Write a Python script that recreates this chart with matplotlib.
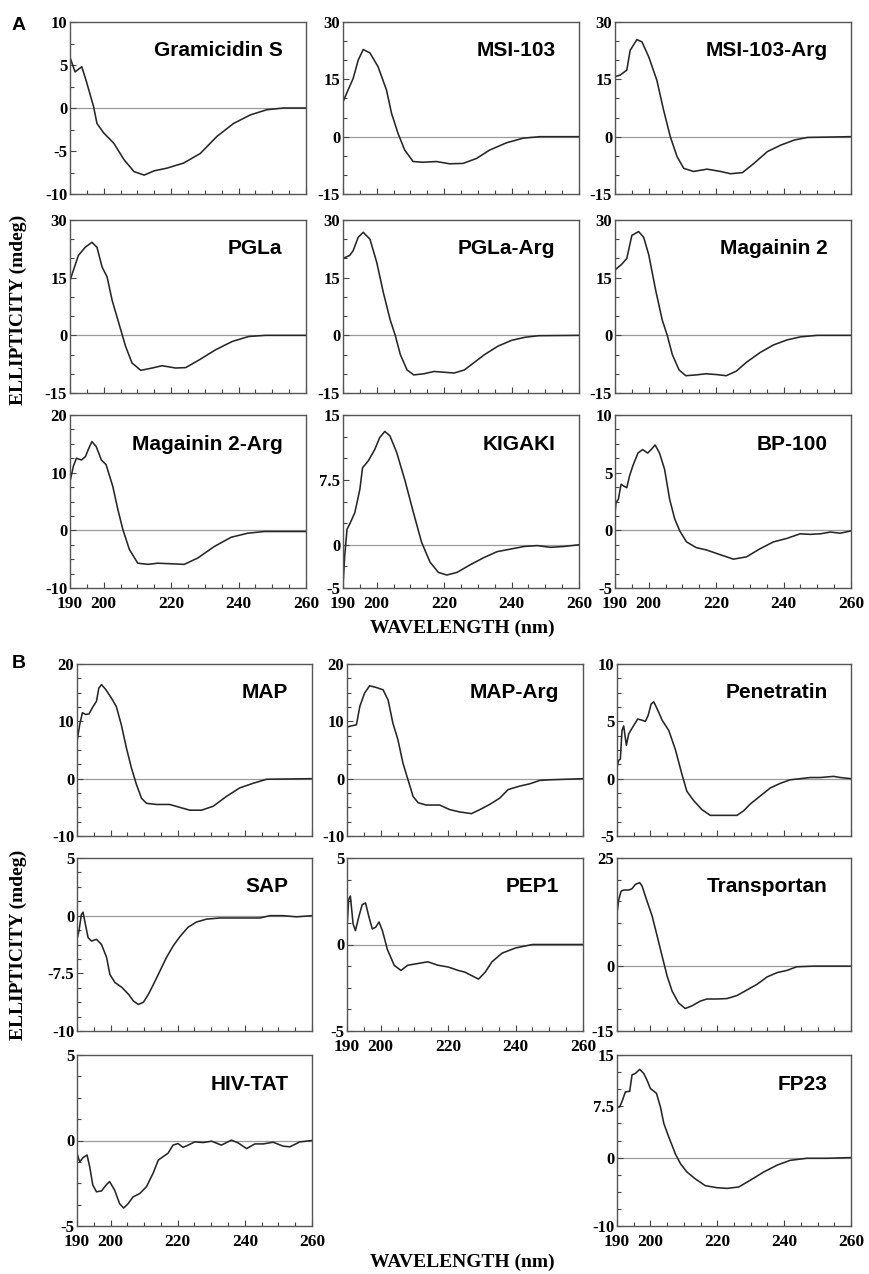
import matplotlib
matplotlib.use("Agg")
import matplotlib.pyplot as plt
from matplotlib.ticker import MultipleLocator

# ---- data (wavelength nm, ellipticity mdeg) ----
gramicidin_wl = [190, 191.5, 193.5, 195, 197, 198, 200, 203, 206, 209, 212, 215, 218.7, 223.7, 228.6, 233.6, 238.5, 243.5, 248.4, 253.4, 260]
gramicidin_cd = [5.9, 4.2, 4.8, 2.9, 0.15, -1.8, -2.9, -4.1, -6.0, -7.4, -7.8, -7.3, -7.0, -6.4, -5.3, -3.3, -1.8, -0.8, -0.2, 0.0, 0.0]

msi103_wl = [190, 191.5, 193, 194.5, 196, 198, 200.4, 202.9, 204.4, 206.3, 208.3, 210.8, 213.7, 217.7, 221.6, 225.6, 229.6, 233.5, 238.5, 243.4, 248.4, 260]
msi103_cd = [9.1, 12.2, 15.2, 20.0, 22.8, 21.9, 18.3, 12.2, 6.1, 0.9, -3.5, -6.5, -6.7, -6.5, -7.1, -7.0, -5.7, -3.5, -1.6, -0.4, 0.0, 0.0]

msi103arg_wl = [190, 191.5, 193.5, 194.5, 196.5, 198, 200, 202.4, 204.4, 206.4, 208.4, 210.4, 213.3, 217.3, 221.3, 224.3, 227.8, 231.2, 235.2, 239.2, 243.1, 247.1, 260]
msi103arg_cd = [15.7, 16.1, 17.4, 22.6, 25.4, 24.8, 20.9, 14.8, 7.0, 0.0, -5.2, -8.3, -9.1, -8.5, -9.1, -9.7, -9.4, -7.0, -3.9, -2.2, -0.9, -0.2, 0.0]

pgla_wl = [190, 191, 192.5, 194.5, 196.5, 198, 199.5, 201, 202.5, 204.5, 206.5, 208.4, 211, 214.4, 217.3, 221.3, 224.3, 228.3, 233.1, 238.1, 243, 248, 260]
pgla_cd = [14.3, 16.9, 20.8, 22.9, 24.2, 22.9, 17.8, 15.2, 9.1, 3.1, -2.9, -7.2, -9.1, -8.5, -7.9, -8.5, -8.4, -6.4, -3.8, -1.6, -0.3, 0.0, 0.0]

pglaarg_wl = [190, 192, 193, 194.5, 196, 198, 200, 202, 204, 205.5, 207, 209, 211, 214, 217, 220, 223, 226, 229, 232, 236, 240, 244, 248, 260]
pglaarg_cd = [20, 20.8, 22, 25.5, 26.8, 25, 19, 11, 4, 0, -5, -9, -10.3, -10, -9.4, -9.6, -9.8, -9, -7, -5, -2.8, -1.3, -0.5, -0.1, 0]

mag2_wl = [190, 192, 193.5, 195, 197, 198.5, 200, 202, 204, 205.5, 207, 209, 211, 214, 217, 220, 223, 226, 229, 233, 237, 241, 245, 250, 260]
mag2_cd = [17, 18.5, 20, 26, 27, 25.5, 21, 12, 4, 0, -5, -9, -10.5, -10.3, -10, -10.2, -10.5, -9.3, -7, -4.5, -2.5, -1.2, -0.4, 0, 0]

mag2arg_wl = [190, 191, 191.9, 193.4, 194.6, 195.4, 196.5, 197.8, 199.3, 200.7, 202.7, 204.2, 205.7, 207.6, 210.1, 213.1, 216, 220, 223.9, 227.9, 232.8, 237.8, 242.7, 247.7, 260]
mag2arg_cd = [8.5, 11.1, 12.5, 12.2, 12.8, 14.0, 15.4, 14.5, 12.2, 11.4, 7.6, 3.6, 0.1, -3.3, -5.7, -5.9, -5.7, -5.8, -5.9, -4.8, -2.8, -1.2, -0.5, -0.2, -0.2]

kigaki_wl = [190, 190.5, 191.2, 192, 193.5, 195, 195.8, 197.5, 199.4, 200.9, 202.4, 203.9, 205.9, 208.4, 210.9, 213.3, 215.8, 218.3, 220.8, 223.8, 227.8, 231.7, 235.7, 239.7, 243.7, 247.6, 251.6, 255.5, 260]
kigaki_cd = [-4.8, -1.3, 1.8, 2.4, 3.7, 6.4, 8.9, 9.7, 11.0, 12.4, 13.1, 12.6, 10.7, 7.4, 3.7, 0.3, -2.0, -3.2, -3.5, -3.2, -2.3, -1.5, -0.8, -0.5, -0.2, -0.1, -0.3, -0.2, 0.0]

bp100_wl = [190, 190.3, 191, 191.8, 192.8, 193.5, 194.3, 195.3, 196.8, 198.2, 199.7, 200.7, 201.9, 203.2, 204.7, 206.2, 207.7, 209.2, 211.2, 214.1, 217.1, 221.1, 225.1, 229, 233, 237, 241, 244.9, 247.9, 250.9, 253.9, 256.8, 260]
bp100_cd = [1.5, 2.4, 2.7, 4.0, 3.8, 3.7, 4.7, 5.6, 6.7, 7.0, 6.7, 7.0, 7.4, 6.7, 5.3, 2.7, 1.0, -0.05, -1.0, -1.5, -1.7, -2.1, -2.5, -2.3, -1.6, -1.0, -0.7, -0.3, -0.35, -0.3, -0.15, -0.25, -0.05]

map_wl = [190, 190.8, 191.6, 192.6, 193.6, 194.8, 195.8, 196.5, 197.3, 198.5, 200.2, 201.7, 203.2, 204.7, 206.2, 207.7, 209.2, 210.7, 213.7, 217.6, 220.6, 223.6, 227.1, 230.6, 234.5, 238.5, 242.5, 246.5, 260]
map_cd = [6.5, 9.4, 11.5, 11.2, 11.3, 12.6, 13.5, 15.8, 16.4, 15.6, 14.1, 12.6, 9.4, 5.4, 1.9, -1.0, -3.4, -4.3, -4.5, -4.5, -5.0, -5.5, -5.5, -4.8, -3.1, -1.6, -0.8, -0.1, 0.0]

maparg_wl = [190, 191.3, 192.8, 193.8, 195.2, 196.7, 198.7, 200.7, 202.2, 203.6, 205.1, 206.6, 208.1, 209.6, 211.1, 213.5, 217.5, 220.5, 223.4, 226.9, 229.4, 232.3, 235.3, 237.8, 241.2, 244.2, 247.2, 250.1, 260]
maparg_cd = [9.0, 9.2, 9.4, 12.6, 14.9, 16.2, 15.9, 15.5, 13.7, 9.7, 6.8, 2.7, -0.2, -3.1, -4.2, -4.6, -4.6, -5.4, -5.8, -6.1, -5.4, -4.5, -3.4, -1.9, -1.3, -0.9, -0.3, -0.2, 0.0]

penetratin_wl = [190, 190.5, 191, 191.5, 192, 192.8, 193.5, 194.5, 196.2, 197.5, 198.5, 199.3, 200.2, 201, 202, 203.5, 205.5, 207.5, 209.4, 210.9, 212.9, 215.4, 217.9, 220.9, 223.4, 225.9, 227.9, 229.9, 232.9, 235.9, 238.9, 241.8, 244.8, 247.8, 250.8, 254.8, 256.8, 260]
penetratin_cd = [1.0, 1.6, 1.7, 4.2, 4.6, 2.9, 3.9, 4.4, 5.2, 5.1, 5.0, 5.5, 6.5, 6.7, 6.1, 5.1, 4.2, 2.5, 0.4, -1.1, -1.9, -2.7, -3.2, -3.2, -3.2, -3.2, -2.8, -2.2, -1.5, -0.8, -0.4, -0.1, 0.0, 0.1, 0.1, 0.2, 0.1, 0.0]

sap_wl = [190, 190.6, 191.3, 191.8, 192.6, 193.3, 194.3, 195.8, 197.3, 198.8, 199.8, 201.3, 203.3, 205.3, 206.8, 208.3, 209.8, 211.3, 212.7, 214.7, 216.7, 218.7, 220.7, 223.1, 225.6, 228.6, 232.6, 236.5, 240.5, 244.5, 247.5, 251.4, 255.4, 260]
sap_cd = [-2.05, -1.3, 0.1, 0.3, -0.9, -1.9, -2.2, -2.05, -2.5, -3.6, -5.1, -5.8, -6.2, -6.8, -7.4, -7.7, -7.5, -6.8, -6.0, -4.8, -3.6, -2.6, -1.8, -1.0, -0.55, -0.3, -0.2, -0.2, -0.2, -0.2, 0.0, 0.0, -0.1, 0.0]

pep1_wl = [190, 190.5, 191, 191.8, 192.5, 193.5, 194.5, 195.5, 196.5, 197.5, 198.5, 199.5, 200.5, 202, 204, 206, 208, 211, 214, 217, 220, 223, 225, 227, 229, 231, 233, 236, 240, 245, 250, 260]
pep1_cd = [1.0, 2.6, 2.8, 1.2, 0.8, 1.6, 2.3, 2.4, 1.6, 0.9, 1.0, 1.3, 0.8, -0.3, -1.2, -1.5, -1.2, -1.1, -1.0, -1.2, -1.3, -1.5, -1.6, -1.8, -2.0, -1.6, -1.0, -0.5, -0.2, 0.0, 0.0, 0.0]

transportan_wl = [190, 190.5, 191.2, 192, 193.5, 194.5, 195.5, 196.8, 197.5, 199, 200.5, 202, 203.5, 205, 206.5, 208.4, 210.4, 212.4, 214.9, 216.9, 219.9, 222.9, 225.9, 228.9, 231.9, 234.9, 237.9, 240.8, 243.8, 248.8, 260]
transportan_cd = [12.2, 15.3, 17.3, 17.6, 17.6, 17.9, 18.9, 19.3, 18.5, 15.0, 11.6, 7.0, 2.3, -2.3, -5.8, -8.5, -9.8, -9.2, -8.1, -7.6, -7.6, -7.5, -6.8, -5.5, -4.2, -2.5, -1.5, -1.0, -0.15, 0.0, 0.0]

hivtat_wl = [190, 190.8, 191.8, 193, 193.8, 194.7, 195.8, 197.3, 198.7, 199.7, 201.2, 202.7, 203.9, 205.2, 206.7, 208.7, 210.7, 212.7, 214.2, 215.6, 217.1, 218.6, 220.1, 221.6, 223.1, 225.1, 227.6, 230.1, 233, 236, 238, 240.5, 243, 245.5, 248.4, 251.4, 253.4, 256.4, 260]
hivtat_cd = [-0.75, -1.25, -1.0, -0.85, -1.55, -2.6, -3.0, -2.95, -2.6, -2.4, -2.9, -3.7, -3.95, -3.7, -3.3, -3.1, -2.7, -1.9, -1.15, -0.95, -0.75, -0.27, -0.18, -0.4, -0.27, -0.08, -0.12, -0.04, -0.27, 0.02, -0.14, -0.47, -0.2, -0.2, -0.1, -0.33, -0.37, -0.08, 0.0]

fp23_wl = [190, 190.8, 191.5, 192.5, 193.8, 194.5, 195.5, 196.8, 198, 199, 200, 201.8, 203, 204, 205.5, 207.5, 209, 210.9, 213.4, 216.4, 219.9, 222.9, 226.4, 229.9, 233.9, 237.9, 241.8, 246.8, 252.8, 260]
fp23_cd = [7.4, 7.4, 8.2, 9.6, 9.7, 12.1, 12.3, 12.9, 12.3, 11.3, 10.1, 9.4, 7.4, 5.0, 3.0, 0.5, -0.9, -2.1, -3.1, -4.1, -4.4, -4.5, -4.3, -3.3, -2.1, -1.1, -0.4, -0.1, -0.1, 0.0]

x_ticks = [190, 200, 220, 240, 260]

W, H = 870, 1274
fig = plt.figure(figsize=(W / 100, H / 100), dpi=100)

SERIF = "Liberation Serif"
SANS = "Liberation Sans"


def panel(box, name, wl, cd, ylim, yticks, ylabels, minor, xlabels=False):
    x0, y0, x1, y1 = box
    ax = fig.add_axes([x0 / W, 1 - y1 / H, (x1 - x0) / W, (y1 - y0) / H])
    ax.axhline(0, color="#9a9a9a", lw=0.9, zorder=1)
    ax.plot(wl, cd, color="#262626", lw=1.15, zorder=2)
    ax.set_xlim(190, 260)
    ax.set_ylim(*ylim)
    ax.set_yticks(yticks)
    ax.set_yticklabels(ylabels, fontfamily=SERIF, fontweight="bold", fontsize=12)
    ax.yaxis.set_minor_locator(MultipleLocator(minor))
    ax.set_xticks(x_ticks)
    ax.xaxis.set_minor_locator(MultipleLocator(5))
    if xlabels:
        ax.set_xticklabels([str(t) for t in x_ticks], fontfamily=SERIF,
                           fontweight="bold", fontsize=12.5)
    else:
        ax.set_xticklabels([])
    ax.tick_params(which="both", direction="in", top=False, right=False,
                   color="#444444", width=0.8, pad=2)
    ax.tick_params(axis="x", pad=6)
    ax.tick_params(which="major", length=4)
    ax.tick_params(which="minor", length=3)
    for s in ax.spines.values():
        s.set_color("#555555")
        s.set_linewidth(1.0)
    ax.text(0.9, 1 - 29 / (y1 - y0), name, transform=ax.transAxes, ha="right",
            va="center", fontfamily=SANS, fontweight="bold", fontsize=15)
    return ax


# panel A
colA = [(70, 306), (343, 579), (615, 851)]
rowA = [(22, 194), (220, 393), (415, 588)]
big = [30, 15, 0, -15]
big_l = ["30", "15", "0", "-15"]

panel((colA[0][0], rowA[0][0], colA[0][1], rowA[0][1]), "Gramicidin S", gramicidin_wl, gramicidin_cd,
      (-10, 10), [10, 5, 0, -5, -10], ["10", "5", "0", "-5", "-10"], 2.5)
panel((colA[1][0], rowA[0][0], colA[1][1], rowA[0][1]), "MSI-103", msi103_wl, msi103_cd,
      (-15, 30), big, big_l, 5)
panel((colA[2][0], rowA[0][0], colA[2][1], rowA[0][1]), "MSI-103-Arg", msi103arg_wl, msi103arg_cd,
      (-15, 30), big, big_l, 5)
panel((colA[0][0], rowA[1][0], colA[0][1], rowA[1][1]), "PGLa", pgla_wl, pgla_cd,
      (-15, 30), big, big_l, 5)
panel((colA[1][0], rowA[1][0], colA[1][1], rowA[1][1]), "PGLa-Arg", pglaarg_wl, pglaarg_cd,
      (-15, 30), big, big_l, 5)
panel((colA[2][0], rowA[1][0], colA[2][1], rowA[1][1]), "Magainin 2", mag2_wl, mag2_cd,
      (-15, 30), big, big_l, 5)
panel((colA[0][0], rowA[2][0], colA[0][1], rowA[2][1]), "Magainin 2-Arg", mag2arg_wl, mag2arg_cd,
      (-10, 20), [20, 10, 0, -10], ["20", "10", "0", "-10"], 2.5, xlabels=True)
panel((colA[1][0], rowA[2][0], colA[1][1], rowA[2][1]), "KIGAKI", kigaki_wl, kigaki_cd,
      (-5, 15), [15, 7.5, 0, -5], ["15", "7.5", "0", "-5"], 2.5, xlabels=True)
panel((colA[2][0], rowA[2][0], colA[2][1], rowA[2][1]), "BP-100", bp100_wl, bp100_cd,
      (-5, 10), [10, 5, 0, -5], ["10", "5", "0", "-5"], 1.25, xlabels=True)

# panel B
colB = [(77, 312), (347, 583), (617, 851)]
rowB = [(664, 836), (858, 1031), (1055, 1226)]

panel((colB[0][0], rowB[0][0], colB[0][1], rowB[0][1]), "MAP", map_wl, map_cd,
      (-10, 20), [20, 10, 0, -10], ["20", "10", "0", "-10"], 2.5)
panel((colB[1][0], rowB[0][0], colB[1][1], rowB[0][1]), "MAP-Arg", maparg_wl, maparg_cd,
      (-10, 20), [20, 10, 0, -10], ["20", "10", "0", "-10"], 2.5)
panel((colB[2][0], rowB[0][0], colB[2][1], rowB[0][1]), "Penetratin", penetratin_wl, penetratin_cd,
      (-5, 10), [10, 5, 0, -5], ["10", "5", "0", "-5"], 1.25)
panel((colB[0][0], rowB[1][0], colB[0][1], rowB[1][1]), "SAP", sap_wl, sap_cd,
      (-10, 5), [5, 0, -5, -10], ["5", "0", "-7.5", "-10"], 1.25)
panel((colB[1][0], rowB[1][0], colB[1][1], rowB[1][1]), "PEP1", pep1_wl, pep1_cd,
      (-5, 5), [5, 0, -5], ["5", "0", "-5"], 1.25, xlabels=True)
panel((colB[2][0], rowB[1][0], colB[2][1], rowB[1][1]), "Transportan", transportan_wl, transportan_cd,
      (-15, 25), [25, 0, -15], ["25", "0", "-15"], 5)
panel((colB[0][0], rowB[2][0], colB[0][1], rowB[2][1]), "HIV-TAT", hivtat_wl, hivtat_cd,
      (-5, 5), [5, 0, -5], ["5", "0", "-5"], 1.25, xlabels=True)
panel((colB[2][0], rowB[2][0], colB[2][1], rowB[2][1]), "FP23", fp23_wl, fp23_cd,
      (-10, 15), [15, 7.5, 0, -10], ["15", "7.5", "0", "-10"], 2.5, xlabels=True)

# shared labels
lab = dict(fontfamily=SERIF, fontweight="bold", fontsize=14)
fig.text(18 / W, 1 - 310 / H, "ELLIPTICITY (mdeg)", rotation=90, ha="center", va="center", **lab)
fig.text(18 / W, 1 - 945 / H, "ELLIPTICITY (mdeg)", rotation=90, ha="center", va="center", **lab)
fig.text(462 / W, 1 - 628 / H, "WAVELENGTH (nm)", ha="center", va="center", **lab)
fig.text(462 / W, 1 - 1262 / H, "WAVELENGTH (nm)", ha="center", va="center", **lab)
fig.text(12 / W, 1 - 25 / H, "A", ha="left", va="center", fontfamily=SANS, fontweight="bold", fontsize=14)
fig.text(12 / W, 1 - 663 / H, "B", ha="left", va="center", fontfamily=SANS, fontweight="bold", fontsize=14)

fig.savefig("out.png", dpi=100, facecolor="white")
